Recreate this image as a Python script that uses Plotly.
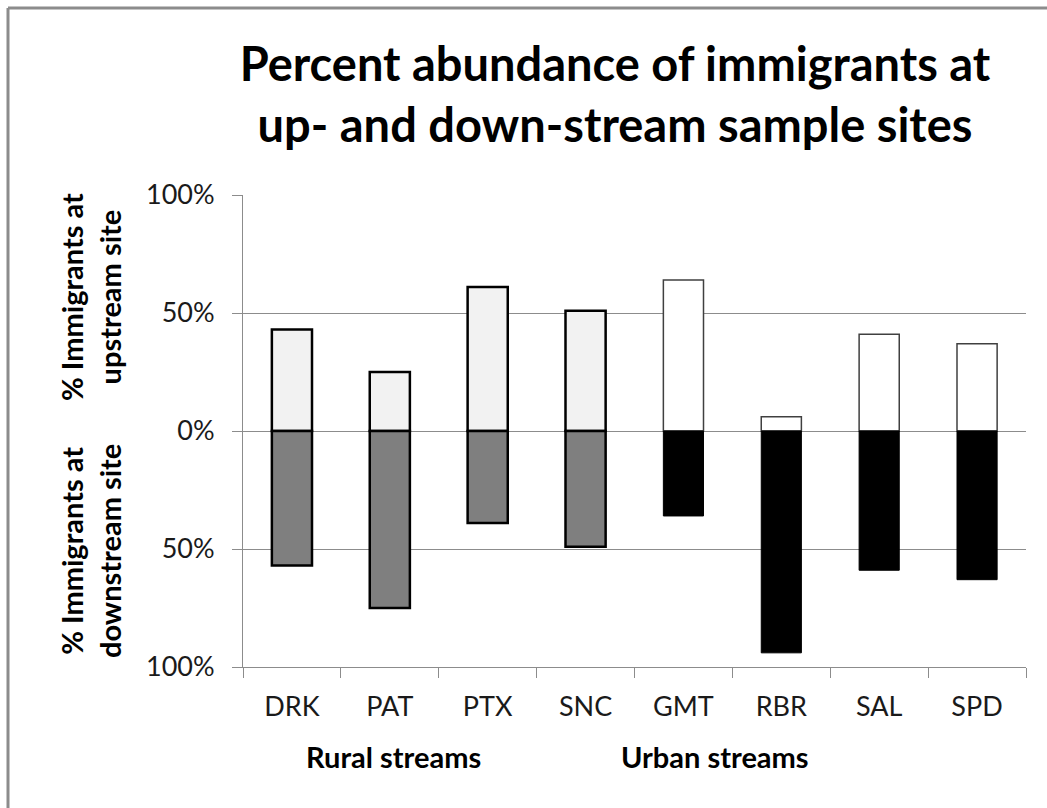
import plotly.graph_objects as go

sites = ["DRK", "PAT", "PTX", "SNC", "GMT", "RBR", "SAL", "SPD"]
stream_type = ["Rural", "Rural", "Rural", "Rural", "Urban", "Urban", "Urban", "Urban"]
upstream_pct = [43, 25, 61, 51, 64, 6, 41, 37]
downstream_pct = [57, 75, 39, 49, 36, 94, 59, 63]
y_tick_vals = [-100, -50, 0, 50, 100]
y_tick_text = ["100%", "50%", "0%", "50%", "100%"]

W, H = 1047, 808
L, R, T, B = 243, 21, 195, 141
pw, ph = W - L - R, H - T - B

def px(x):
    return (x - L) / pw

def py(y):
    return (H - B - y) / ph

up_fill = {"Rural": "#F2F2F2", "Urban": "#FFFFFF"}
down_fill = {"Rural": "#7F7F7F", "Urban": "#000000"}
up_line = {"Rural": "#000000", "Urban": "#404040"}
up_lw = {"Rural": 2.5, "Urban": 1.5}

FONT = "Lato"

fig = go.Figure()
fig.add_trace(go.Bar(
    x=sites, y=upstream_pct, name="Upstream",
    marker=dict(color=[up_fill[t] for t in stream_type],
                line=dict(color=[up_line[t] for t in stream_type],
                          width=[up_lw[t] for t in stream_type])),
    hovertemplate="%{x}: %{y}%<extra>Upstream</extra>",
))
fig.add_trace(go.Bar(
    x=sites, y=[-v for v in downstream_pct], name="Downstream",
    customdata=downstream_pct,
    marker=dict(color=[down_fill[t] for t in stream_type],
                line=dict(color="#000000", width=[2.5 if t == "Rural" else 1 for t in stream_type])),
    hovertemplate="%{x}: %{customdata}%<extra>Downstream</extra>",
))

grid = "#8C8C8C"
fig.update_layout(
    width=W, height=H,
    margin=dict(l=L, r=R, t=T, b=B, autoexpand=False),
    barmode="relative", bargap=0.59,
    showlegend=False,
    paper_bgcolor="white", plot_bgcolor="white",
    font=dict(family=FONT, color="#1a1a1a"),
    title=dict(text="<b>Percent abundance of immigrants at<br>up- and down-stream sample sites</b>",
               x=615 / W, xanchor="center", xref="container",
               y=1 - 81 / H, yanchor="middle", yref="container",
               font=dict(family=FONT, size=47, color="#000000")),
    xaxis=dict(type="category", tickson="boundaries", ticks="outside", ticklen=10,
               tickcolor=grid, showline=True, linecolor=grid, linewidth=1,
               showgrid=False, tickfont=dict(family=FONT, size=27, color="#1a1a1a"),
               ticklabelstandoff=16),
    yaxis=dict(range=[-100, 100], tickvals=y_tick_vals, ticktext=y_tick_text,
               ticks="outside", ticklen=10, tickcolor=grid, showline=True,
               linecolor=grid, linewidth=1, showgrid=True, gridcolor=grid, gridwidth=1,
               zeroline=True, zerolinecolor=grid, zerolinewidth=1,
               tickfont=dict(family=FONT, size=27, color="#1a1a1a"),
               ticklabelstandoff=12),
    annotations=[
        dict(text="<b>% Immigrants at<br>upstream site</b>", xref="paper", yref="paper",
             x=px(90), y=py(297), xanchor="center", yanchor="middle", textangle=-90,
             showarrow=False, font=dict(family=FONT, size=29, color="#000000")),
        dict(text="<b>% Immigrants at<br>downstream site</b>", xref="paper", yref="paper",
             x=px(90), y=py(551), xanchor="center", yanchor="middle", textangle=-90,
             showarrow=False, font=dict(family=FONT, size=29, color="#000000")),
        dict(text="<b>Rural streams</b>", xref="paper", yref="paper",
             x=px(393), y=py(756), xanchor="center", yanchor="middle",
             showarrow=False, font=dict(family=FONT, size=29, color="#000000")),
        dict(text="<b>Urban streams</b>", xref="paper", yref="paper",
             x=px(715), y=py(756), xanchor="center", yanchor="middle",
             showarrow=False, font=dict(family=FONT, size=29, color="#000000")),
    ],
    shapes=[
        dict(type="line", xref="paper", yref="paper", x0=px(8), x1=px(8), y0=py(8), y1=py(830),
             line=dict(color="#8C8C8C", width=3)),
        dict(type="line", xref="paper", yref="paper", x0=px(8), x1=px(1060), y0=py(8), y1=py(8),
             line=dict(color="#8C8C8C", width=3)),
    ],
)

fig.write_html("out.html")
